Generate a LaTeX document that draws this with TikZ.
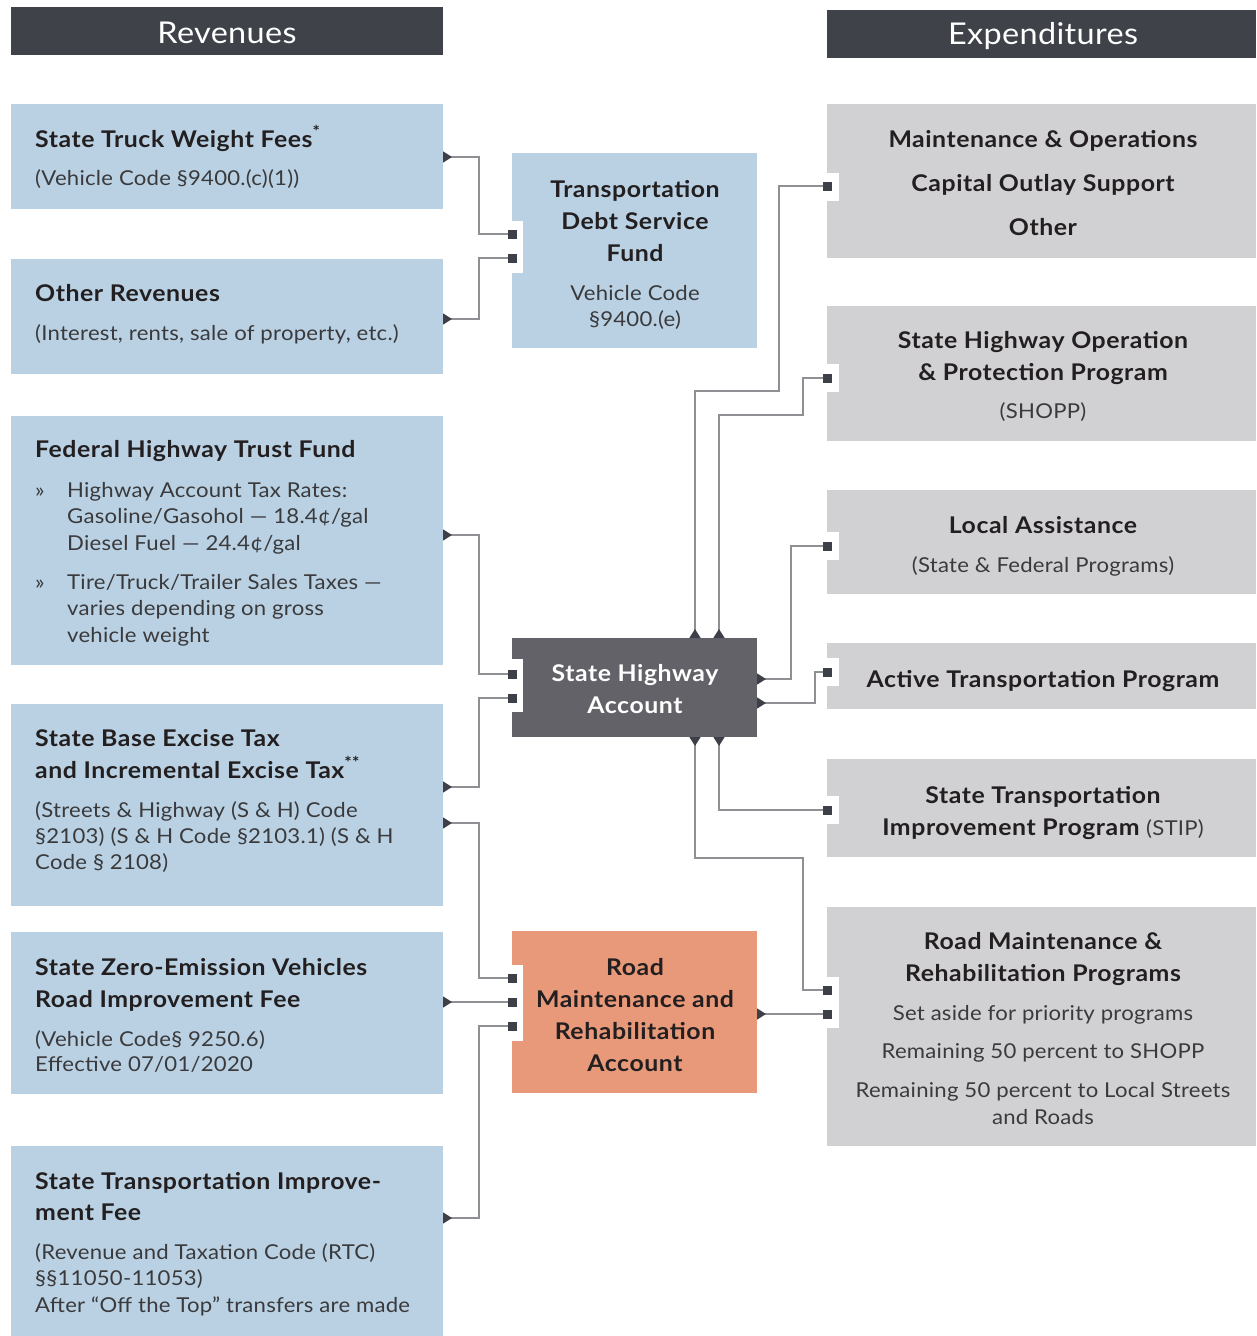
\documentclass[tikz,border=0pt]{standalone}
\usepackage{fontspec}
\setmainfont{Lato}[FakeStretch=1.08, LetterSpace=1.2, BoldFeatures={FakeStretch=1.08, LetterSpace=2.4}]
\usetikzlibrary{arrows.meta}
\definecolor{hdr}{HTML}{3F4249}
\definecolor{bluebox}{HTML}{B9D1E3}
\definecolor{graybox}{HTML}{D1D1D3}
\definecolor{shacol}{HTML}{636268}
\definecolor{rmracol}{HTML}{E8997A}
\definecolor{tipc}{HTML}{3D4048}
\definecolor{linec}{HTML}{8E9094}
\definecolor{boldtxt}{HTML}{231F20}
\definecolor{regtxt}{HTML}{3A3A3C}
\begin{document}
\begin{tikzpicture}[x=1pt,y=-1pt,
  box/.style={anchor=north west, inner sep=0pt, outer sep=0pt, draw=none},
  notch/.style={fill=white, draw=none},
  hd/.style={inner sep=0pt, text=white, font=\fontsize{30}{36}\selectfont},
  tb/.style={inner sep=0pt, text=boldtxt, font=\fontsize{23}{27}\bfseries},
  tr/.style={inner sep=0pt, text=regtxt, font=\fontsize{20.5}{24}\selectfont},
  conn/.style={draw=linec, line width=1.5pt, shorten >=-4.5pt,
    {Triangle[reversed,length=9pt,width=11pt,color=tipc]}-{Square[length=9pt,width=9pt,color=tipc]}}
]
\useasboundingbox (0,0) rectangle (1256,1336);

% headers
\node[box, fill=hdr, minimum width=432pt, minimum height=48pt] (revh) at (11,7) {};
\node[hd] (revt) at (227,33) {Revenues};
\node[box, fill=hdr, minimum width=429pt, minimum height=48pt] (exph) at (827,10) {};
\node[hd] (expt) at (1043,36) {Expenditures};

% left boxes
\node[box, fill=bluebox, minimum width=432pt, minimum height=105pt] (stwf) at (11,104) {};
\node[box, fill=bluebox, minimum width=432pt, minimum height=115pt] (orv) at (11,259) {};
\node[box, fill=bluebox, minimum width=432pt, minimum height=249pt] (fhtf) at (11,416) {};
\node[box, fill=bluebox, minimum width=432pt, minimum height=202pt] (sbet) at (11,704) {};
\node[box, fill=bluebox, minimum width=432pt, minimum height=162pt] (zev) at (11,932) {};
\node[box, fill=bluebox, minimum width=432pt, minimum height=190pt] (stif) at (11,1146) {};

% middle boxes
\node[box, fill=bluebox, minimum width=245pt, minimum height=195pt] (tdsf) at (512,153) {};
\node[box, fill=shacol, minimum width=245pt, minimum height=99pt] (sha) at (512,638) {};
\node[box, fill=rmracol, minimum width=245pt, minimum height=162pt] (rmra) at (512,931) {};

% right boxes
\node[box, fill=graybox, minimum width=429pt, minimum height=154pt] (mo) at (827,104) {};
\node[box, fill=graybox, minimum width=429pt, minimum height=135pt] (shopp) at (827,306) {};
\node[box, fill=graybox, minimum width=429pt, minimum height=104pt] (la) at (827,490) {};
\node[box, fill=graybox, minimum width=429pt, minimum height=66pt] (atp) at (827,643) {};
\node[box, fill=graybox, minimum width=429pt, minimum height=98pt] (stip) at (827,759) {};
\node[box, fill=graybox, minimum width=429pt, minimum height=239pt] (rmrp) at (827,907) {};

% notches
\fill[notch] (512,221) rectangle (523,273);
\fill[notch] (512,659) rectangle (523,712);
\fill[notch] (512,965) rectangle (523,1041);
\fill[notch] (827,173) rectangle (839,201);
\fill[notch] (827,364) rectangle (839,392);
\fill[notch] (827,532) rectangle (839,560);
\fill[notch] (827,658) rectangle (839,686);
\fill[notch] (827,796) rectangle (839,824);
\fill[notch] (827,977) rectangle (839,1028);

% connectors
\draw[conn] (stwf.east |- 0,157) -- (479,157) |- (tdsf.west |- 0,234);
\draw[conn] (orv.east |- 0,319) -- (479,319) |- (tdsf.west |- 0,258);
\draw[conn] (fhtf.east |- 0,535) -- (479,535) |- (sha.west |- 0,674);
\draw[conn] (sbet.east |- 0,787) -- (479,787) |- (sha.west |- 0,698);
\draw[conn] (sbet.east |- 0,823) -- (479,823) |- (rmra.west |- 0,978);
\draw[conn] (zev.east |- 0,1002) -- (rmra.west |- 0,1002);
\draw[conn] (stif.east |- 0,1218) -- (479,1218) |- (rmra.west |- 0,1026);
\draw[conn] (sha.north -| 695,0) |- (779,391) |- (mo.west |- 0,186);
\draw[conn] (sha.north -| 719,0) |- (803,415) |- (shopp.west |- 0,378);
\draw[conn] (sha.east |- 0,679) -| (791,546) -- (la.west |- 0,546);
\draw[conn] (sha.east |- 0,703) -| (815,672) -- (atp.west |- 0,672);
\draw[conn] (sha.south -| 719,0) |- (stip.west |- 0,810);
\draw[conn] (sha.south -| 695,0) |- (803,858) |- (rmrp.west |- 0,990);
\draw[conn] (rmra.east |- 0,1014) -- (rmrp.west |- 0,1014);

% left texts
\node[tb, anchor=base west] (l1a) at (35,147) {State Truck Weight Fees\textsuperscript{*}};
\node[tr, anchor=base west] (l1b) at (35,185) {(Vehicle Code §9400.(c)(1))};

\node[tb, anchor=base west] (l2a) at (35,301) {Other Revenues};
\node[tr, anchor=base west] (l2b) at (35,340) {(Interest, rents, sale of property, etc.)};

\node[tb, anchor=base west] (l3a) at (35,457) {Federal Highway Trust Fund};
\node[tr, anchor=base west] (l3b1) at (35,497) {»};
\node[tr, anchor=base west] (l3b) at (67,497) {Highway Account Tax Rates:};
\node[tr, anchor=base west] (l3c) at (67,523) {Gasoline/Gasohol — 18.4¢/gal};
\node[tr, anchor=base west] (l3d) at (67,550) {Diesel Fuel — 24.4¢/gal};
\node[tr, anchor=base west] (l3e1) at (35,589) {»};
\node[tr, anchor=base west] (l3e) at (67,589) {Tire/Truck/Trailer Sales Taxes —};
\node[tr, anchor=base west] (l3f) at (67,615) {varies depending on gross};
\node[tr, anchor=base west] (l3g) at (67,642) {vehicle weight};

\node[tb, anchor=base west] (l4a) at (35,746) {State Base Excise Tax};
\node[tb, anchor=base west] (l4b) at (35,778) {and Incremental Excise Tax\textsuperscript{**}};
\node[tr, anchor=base west] (l4c) at (35,817) {(Streets \& Highway (S \& H) Code};
\node[tr, anchor=base west] (l4d) at (35,843) {§2103) (S \& H Code §2103.1) (S \& H};
\node[tr, anchor=base west] (l4e) at (35,869) {Code § 2108)};

\node[tb, anchor=base west] (l5a) at (35,975) {State Zero-Emission Vehicles};
\node[tb, anchor=base west] (l5b) at (35,1007) {Road Improvement Fee};
\node[tr, anchor=base west] (l5c) at (35,1046) {(Vehicle Code§ 9250.6)};
\node[tr, anchor=base west] (l5d) at (35,1071) {Effective 07/01/2020};

\node[tb, anchor=base west] (l6a) at (35,1189) {State Transportation Improve-};
\node[tb, anchor=base west] (l6b) at (35,1220) {ment Fee};
\node[tr, anchor=base west] (l6c) at (35,1259) {(Revenue and Taxation Code (RTC)};
\node[tr, anchor=base west] (l6d) at (35,1285) {§§11050-11053)};
\node[tr, anchor=base west] (l6e) at (35,1312) {After “Off the Top” transfers are made};

% middle texts
\node[tb, anchor=base] (m1a) at (635,197) {Transportation};
\node[tb, anchor=base] (m1b) at (635,229) {Debt Service};
\node[tb, anchor=base] (m1c) at (635,261) {Fund};
\node[tr, anchor=base] (m1d) at (635,300) {Vehicle Code};
\node[tr, anchor=base] (m1e) at (635,326) {§9400.(e)};

\node[tb, anchor=base, text=white] (m2a) at (635,681) {State Highway};
\node[tb, anchor=base, text=white] (m2b) at (635,713) {Account};

\node[tb, anchor=base] (m3a) at (635,975) {Road};
\node[tb, anchor=base] (m3b) at (635,1007) {Maintenance and};
\node[tb, anchor=base] (m3c) at (635,1039) {Rehabilitation};
\node[tb, anchor=base] (m3d) at (635,1071) {Account};

% right texts
\node[tb, anchor=base] (r1a) at (1043,147) {Maintenance \& Operations};
\node[tb, anchor=base] (r1b) at (1043,191) {Capital Outlay Support};
\node[tb, anchor=base] (r1c) at (1043,235) {Other};

\node[tb, anchor=base] (r2a) at (1043,348) {State Highway Operation};
\node[tb, anchor=base] (r2b) at (1043,380) {\& Protection Program};
\node[tr, anchor=base] (r2c) at (1043,418) {(SHOPP)};

\node[tb, anchor=base] (r3a) at (1043,533) {Local Assistance};
\node[tr, anchor=base] (r3b) at (1043,572) {(State \& Federal Programs)};

\node[tb, anchor=base] (r4a) at (1043,687) {Active Transportation Program};

\node[tb, anchor=base] (r5a) at (1043,803) {State Transportation};
\node[tb, anchor=base] (r5b) at (1043,835) {Improvement Program {\fontsize{20.5}{24}\mdseries\color{regtxt} (STIP)}};

\node[tb, anchor=base] (r6a) at (1043,949) {Road Maintenance \&};
\node[tb, anchor=base] (r6b) at (1043,981) {Rehabilitation Programs};
\node[tr, anchor=base] (r6c) at (1043,1020) {Set aside for priority programs};
\node[tr, anchor=base] (r6d) at (1043,1058) {Remaining 50 percent to SHOPP};
\node[tr, anchor=base] (r6e) at (1043,1097) {Remaining 50 percent to Local Streets};
\node[tr, anchor=base] (r6f) at (1043,1124) {and Roads};
\end{tikzpicture}
\end{document}
